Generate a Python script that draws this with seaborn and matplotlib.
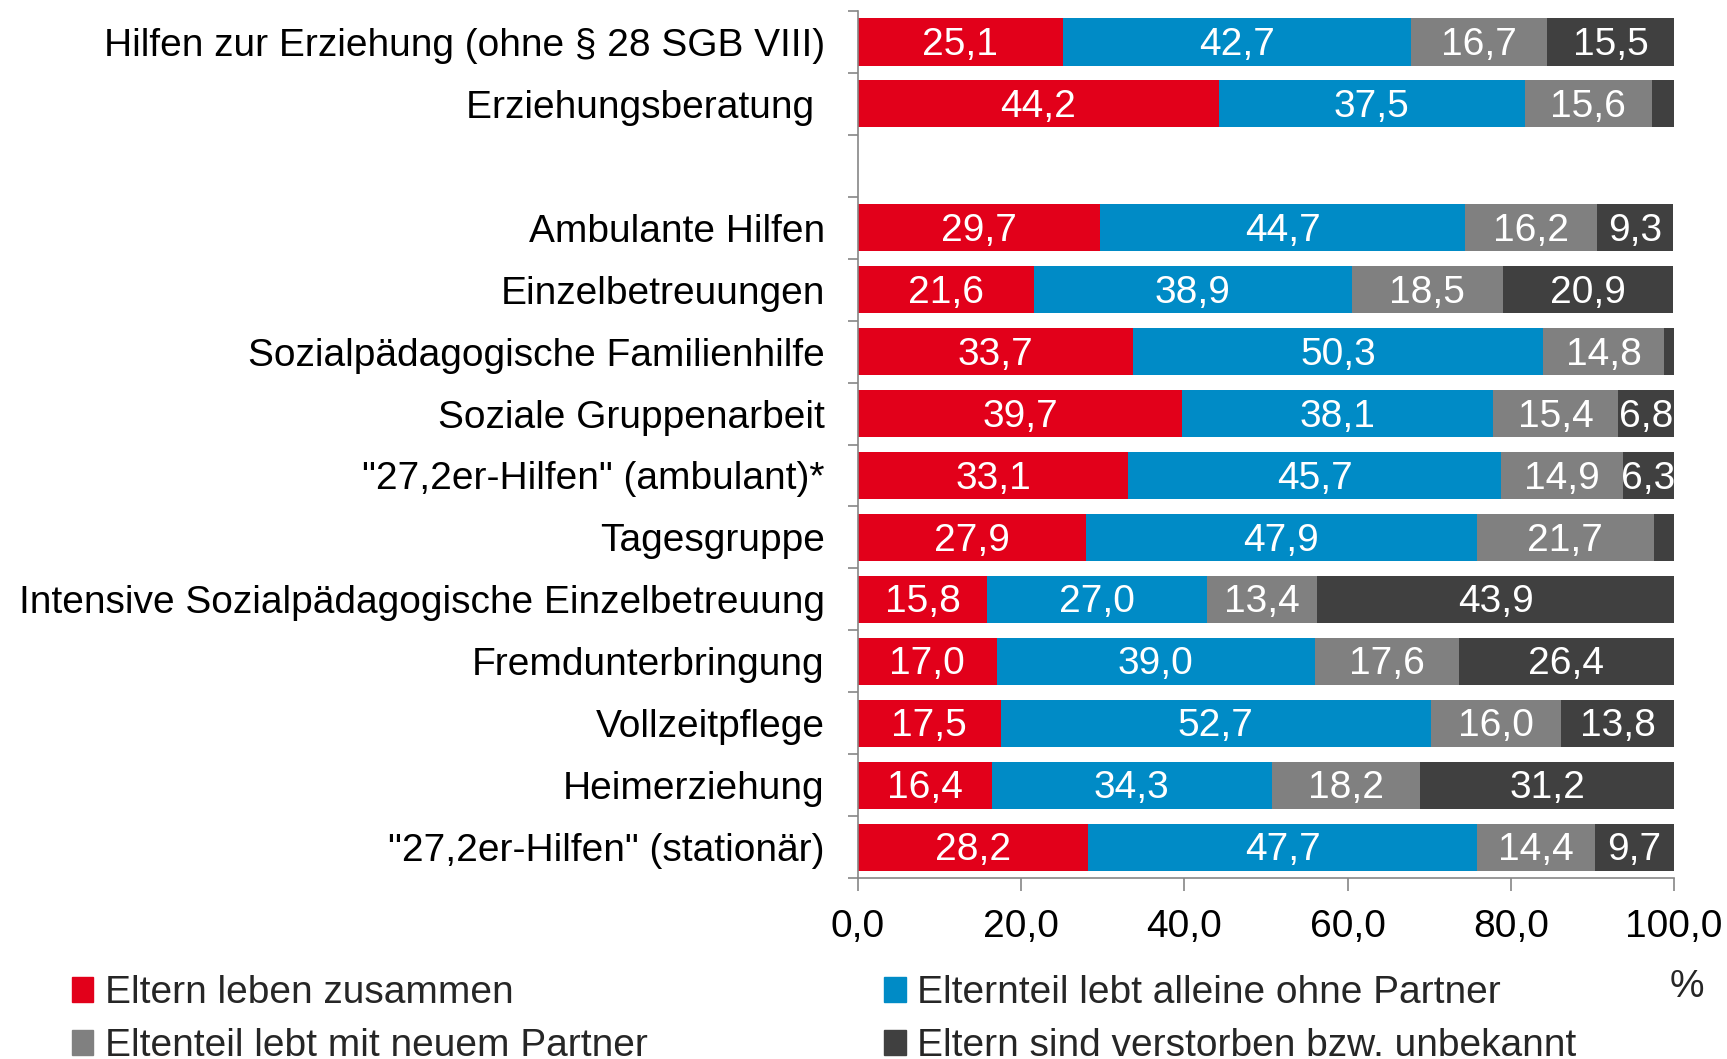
import matplotlib
matplotlib.use("Agg")
import matplotlib.pyplot as plt
import seaborn as sns
import numpy as np
import pandas as pd

categories = [
    "Hilfen zur Erziehung (ohne § 28 SGB VIII)",
    "Erziehungsberatung ",
    " ",
    "Ambulante Hilfen",
    "Einzelbetreuungen",
    "Sozialpädagogische Familienhilfe",
    "Soziale Gruppenarbeit",
    "\"27,2er-Hilfen\" (ambulant)*",
    "Tagesgruppe",
    "Intensive Sozialpädagogische Einzelbetreuung",
    "Fremdunterbringung",
    "Vollzeitpflege",
    "Heimerziehung",
    "\"27,2er-Hilfen\" (stationär)",
]
zusammen = [25.1, 44.2, 0, 29.7, 21.6, 33.7, 39.7, 33.1, 27.9, 15.8, 17.0, 17.5, 16.4, 28.2]
alleine = [42.7, 37.5, 0, 44.7, 38.9, 50.3, 38.1, 45.7, 47.9, 27.0, 39.0, 52.7, 34.3, 47.7]
neuer_partner = [16.7, 15.6, 0, 16.2, 18.5, 14.8, 15.4, 14.9, 21.7, 13.4, 17.6, 16.0, 18.2, 14.4]
verstorben = [15.5, 2.7, 0, 9.3, 20.9, 1.2, 6.8, 6.3, 2.5, 43.9, 26.4, 13.8, 31.2, 9.7]

series = ["Eltern leben zusammen", "Elternteil lebt alleine ohne Partner",
          "Eltenteil lebt mit neuem Partner", "Eltern sind verstorben bzw. unbekannt"]
colors = ["#E2001A", "#008BC6", "#808080", "#404040"]

df = pd.DataFrame({"cat": categories, "s1": zusammen, "s2": alleine,
                   "s3": neuer_partner, "s4": verstorben})
vals = df[["s1", "s2", "s3", "s4"]].to_numpy()
cum = vals.cumsum(axis=1)
for j in range(4):
    df[f"c{j}"] = cum[:, j]

sns.set_style("white")
plt.rcParams["font.family"] = ["Liberation Sans", "DejaVu Sans"]
FS = 28

fig = plt.figure(figsize=(17.27, 10.59), dpi=100)
ax = fig.add_axes([0.4968, 0.1709, 0.9693 - 0.4968, 0.9896 - 0.1709])

# draw cumulative totals back to front so each segment shows
handles = {}
for j in [3, 2, 1, 0]:
    sns.barplot(data=df, y="cat", x=f"c{j}", order=categories, orient="h",
                color=colors[j], saturation=1, width=0.76, linewidth=0, ax=ax)
    handles[j] = plt.Rectangle((0, 0), 1, 1, color=colors[j])

for i in range(len(categories)):
    left = 0
    for j in range(4):
        v = vals[i, j]
        if v >= 3:
            ax.text(left + v / 2, i + 0.05, f"{v:.1f}".replace(".", ","), ha="center", va="center",
                    color="white", fontsize=FS)
        left += v

ax.set_xlim(0, 100)
ax.set_ylim(len(categories) - 0.5, -0.5)
ax.set_xticks(np.arange(0, 101, 20))
ax.set_xticklabels([f"{t:.1f}".replace(".", ",") for t in np.arange(0, 101, 20)], fontsize=FS)
ax.set_yticks(np.arange(-0.5, len(categories), 1), minor=True)
ax.tick_params(axis="y", which="major", length=0, pad=24, labelsize=FS, labelcolor="black")
ax.tick_params(axis="y", which="minor", length=7, width=1.2, color="#868686", left=True)
ax.tick_params(axis="x", which="major", length=9, width=1.2, color="#868686", bottom=True,
               direction="out", pad=13, labelcolor="black")
ax.set_xlabel("")
ax.set_ylabel("")
for s in ["top", "right"]:
    ax.spines[s].set_visible(False)
for s in ["left", "bottom"]:
    ax.spines[s].set_color("#868686")
    ax.spines[s].set_linewidth(1.2)

fig.legend([handles[0], handles[2], handles[1], handles[3]],
           [series[0], series[2], series[1], series[3]],
           ncol=2, loc="upper left", bbox_to_anchor=(0.0415, 0.079), frameon=False,
           fontsize=FS, handlelength=0.55, handleheight=0.6, handletextpad=0.3,
           columnspacing=6.09, labelspacing=0.44, borderaxespad=0, borderpad=0)
fig.text(0.977, 0.068, "%", fontsize=FS, ha="center", va="center")

fig.savefig("out.png", dpi=100, facecolor="white")
